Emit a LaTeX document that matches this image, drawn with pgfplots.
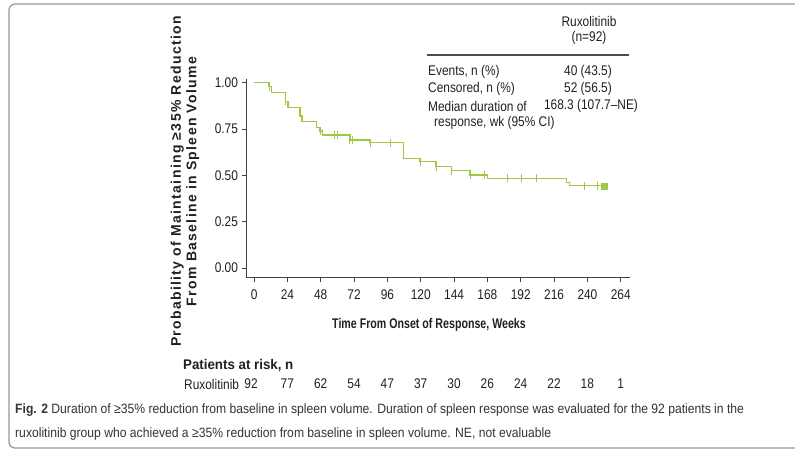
\documentclass[border=0pt]{standalone}
\usepackage{fontspec}
\setmainfont{Liberation Sans}
\newfontfamily\narrow[FakeStretch=0.85]{Liberation Sans}
\newfontfamily\boldish[FakeStretch=0.95]{Liberation Sans}
\newfontfamily\xlab[FakeStretch=0.76]{Liberation Sans}
\newfontfamily\capfont[FakeStretch=0.9]{Liberation Sans}
\newfontfamily\spaced[LetterSpace=9.5]{Liberation Sans}
\usepackage{pgfplots}
\pgfplotsset{compat=1.18}
\definecolor{kmgreen}{RGB}{160,200,70}
\definecolor{framegray}{RGB}{150,150,150}
\definecolor{txt}{RGB}{35,31,32}

\begin{document}
\begin{tikzpicture}
\path[use as bounding box] (0,0) rectangle (795pt,451pt);
% frame round the figure
\draw[framegray, line width=1.2pt, rounded corners=6pt]
  (810pt,447pt) -- (9pt,447pt) -- (9pt,3pt) -- (810pt,3pt);

\begin{axis}[
  at={(246pt,174pt)}, anchor=south west,
  scale only axis, width=383.8pt, height=198pt,
  xmin=-5.8, xmax=270.5, ymin=-0.0486, ymax=1.02,
  axis x line=bottom, axis y line=left,
  axis line style={-, line width=0.9pt, black!75},
  xtick={0,24,...,264}, ytick={0,0.25,0.5,0.75,1},
  tick align=outside, major tick length=4.5pt,
  tick style={line width=0.8pt, black!75},
  yticklabel style={/pgf/number format/.cd, fixed, fixed zerofill, precision=2},
  xticklabel style={yshift=-5pt},
  /pgf/number format/assume math mode=true,
  ticklabel style={font=\narrow\fontsize{14}{14}\selectfont, text=txt},
  clip=false,
]
\addplot[const plot, kmgreen, line width=1.3pt] coordinates {
  (0,1.000) (10.8,0.978) (12.5,0.946) (22.8,0.900) (24.5,0.865)
  (33,0.820) (34.5,0.790) (45,0.760) (47,0.740) (49.5,0.718)
  (69,0.690) (83.5,0.676) (107.5,0.590) (119.5,0.574) (131,0.547)
  (142,0.525) (155.5,0.502) (168.3,0.484) (225,0.460) (227,0.444)
  (253,0.444)};
% censored
\addplot[only marks, mark=|, mark size=4pt, kmgreen, line width=0.9pt] coordinates {
  (10.8,0.978) (22.8,0.900) (48,0.740) (58,0.718) (60,0.718)
  (69,0.690) (71,0.690) (83.5,0.676) (98,0.676) (119.5,0.574)
  (131,0.547) (142,0.525) (155.5,0.502) (166,0.502) (182.6,0.484)
  (192.7,0.484) (203.5,0.484) (238,0.444) (247,0.444)};
\addplot[only marks, mark=square*, mark size=3pt, kmgreen] coordinates {(252,0.444)};
\end{axis}

% axis titles
\node[rotate=90, align=center, text=txt, font=\spaced\bfseries\fontsize{14}{15.5}\selectfont]
  at (185pt,269.5pt) {Probability of Maintaining ≥35\% Reduction\\From Baseline in Spleen Volume};
\node[text=txt, font=\xlab\bfseries\fontsize{14}{14}\selectfont]
  at (429pt,126pt) {Time From Onset of Response, Weeks};

% summary table
\begin{scope}[every node/.style={text=txt, font=\narrow\fontsize{14}{14}\selectfont, inner sep=0pt}]
\node at (589pt,430pt) {Ruxolitinib};
\node at (589pt,413pt) {(n=92)};
\draw[black!70, line width=1.8pt] (427pt,396pt) -- (629pt,396pt);
\node[anchor=west] at (428pt,379pt) {Events, n (\%)};
\node[anchor=west] at (428pt,362pt) {Censored, n (\%)};
\node[anchor=west] at (428pt,345pt) {Median duration of};
\node[anchor=west] at (434pt,328pt) {response, wk (95\% CI)};
\node at (588pt,379pt) {40 (43.5)};
\node at (588pt,362pt) {52 (56.5)};
\node at (591pt,345pt) {168.3 (107.7–NE)};
\end{scope}

% patients at risk
\begin{scope}[every node/.style={text=txt, font=\narrow\fontsize{14}{14}\selectfont, inner sep=0pt}]
\node[anchor=west, font=\boldish\bfseries\fontsize{14}{14}\selectfont] at (183pt,85pt) {Patients at risk, n};
\node[anchor=west] at (184pt,67pt) {Ruxolitinib};
\foreach \x/\n in {251/92, 287.3/77, 320.7/62, 354/54, 387.3/47, 420.7/37,
                   454/30, 487.3/26, 520.7/24, 554/22, 587.3/18, 620.7/1}
  \node at (\x pt,67pt) {\n};
\end{scope}

% caption
\begin{scope}[every node/.style={text=black!80, font=\capfont\fontsize{13.5}{13.5}\selectfont, inner sep=0pt, anchor=west}]
\node at (15pt,41pt) {\textbf{Fig. 2} Duration of ≥35\% reduction from baseline in spleen volume. Duration of spleen response was evaluated for the 92 patients in the};
\node at (15pt,17pt) {ruxolitinib group who achieved a ≥35\% reduction from baseline in spleen volume. NE, not evaluable};
\end{scope}
\end{tikzpicture}
\end{document}
